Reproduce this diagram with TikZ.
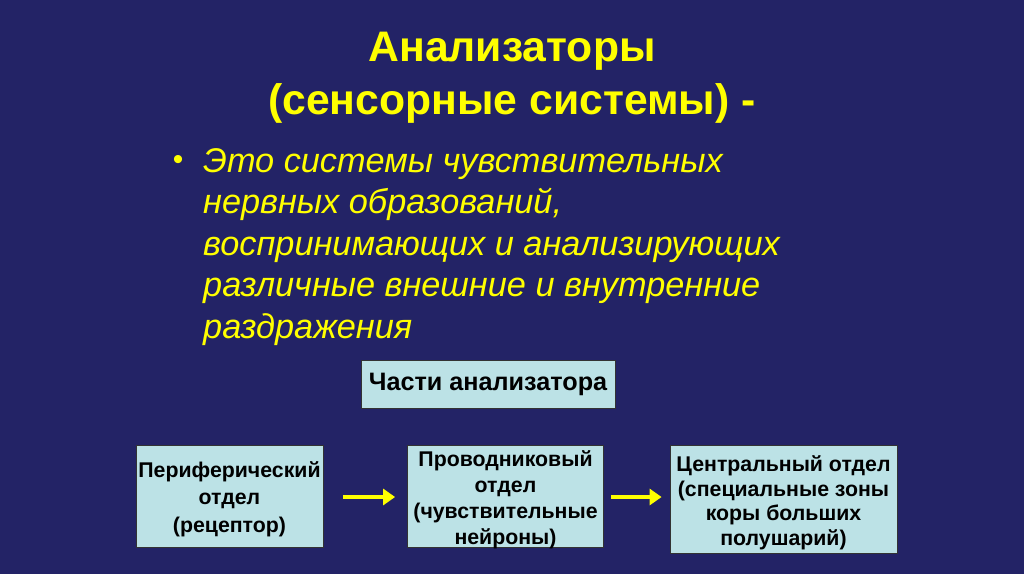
\documentclass[tikz,border=0pt]{standalone}
\usepackage{fontspec}
\setmainfont{Liberation Sans}
\usetikzlibrary{arrows.meta}
\definecolor{bg}{RGB}{35,35,102}
\definecolor{ttl}{RGB}{255,255,0}
\definecolor{boxfill}{RGB}{188,226,230}
\tikzset{
  box/.style={draw=black!80, line width=0.8pt, fill=boxfill, inner sep=0pt, align=center, text=black},
  boxtext/.style={align=center, inner sep=0pt, text=black},
  flow/.style={draw=ttl, line width=4pt, -{Triangle[length=12pt,width=16pt]}}
}
\begin{document}
\begin{tikzpicture}[x=1pt,y=-1pt]
\fill[bg] (0,0) rectangle (1024,574);
\useasboundingbox (0,0) rectangle (1024,574);
\node[text=ttl, font=\fontsize{42.7}{53}\selectfont\bfseries, align=center] (title) at (512,78)
  {Анализаторы\\(сенсорные системы) -};
\node[text=ttl, font=\fontsize{34.3}{41.5}\selectfont\itshape, align=left, anchor=north west, inner sep=0pt] (body) at (203,148)
  {Это системы чувствительных\\нервных образований,\\воспринимающих и анализирующих\\различные внешние и внутренние\\раздражения};
\node[text=ttl, font=\fontsize{30}{30}\selectfont, inner sep=0pt] (bullet) at (178,162) {•};
\node[box, minimum width=254pt, minimum height=48pt, font=\fontsize{25.2}{30}\selectfont\bfseries] (parts) at (488,384) {Части анализатора};
\node[box, minimum width=187pt, minimum height=102pt] (b1) at (229.5,496) {};
\node[boxtext, font=\fontsize{21.3}{27.5}\selectfont\bfseries] (b1t) at (229.5,499)
  {Периферический\\отдел\\(рецептор)};
\node[box, minimum width=196pt, minimum height=102pt] (b2) at (505.5,496) {};
\node[boxtext, font=\fontsize{21.3}{26}\selectfont\bfseries, anchor=north] (b2t) at (505.5,450)
  {Проводниковый\\отдел\\(чувствительные\\нейроны)};
\node[box, minimum width=227pt, minimum height=108pt] (b3) at (783.5,499) {};
\node[boxtext, font=\fontsize{21.3}{24.5}\selectfont\bfseries] (b3t) at (783.5,503)
  {Центральный отдел\\(специальные зоны\\коры больших\\полушарий)};
\draw[flow] ([xshift=20pt]b1.east |- 0,497) -- ([xshift=-12pt]b2.west |- 0,497);
\draw[flow] ([xshift=7pt]b2.east |- 0,497) -- ([xshift=-8pt]b3.west |- 0,497);
\end{tikzpicture}
\end{document}
